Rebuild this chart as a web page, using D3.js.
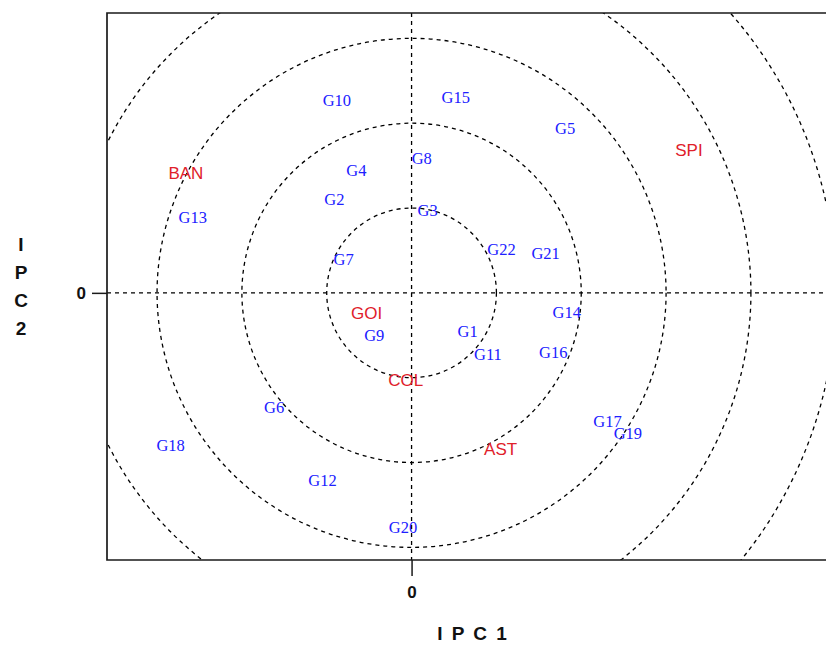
<!DOCTYPE html>
<html>
<head>
<meta charset="utf-8">
<script src="https://cdn.jsdelivr.net/npm/d3@7"></script>
<style>
  html, body { margin: 0; padding: 0; background: #fff; }
  svg { display: block; }
</style>
</head>
<body>
<svg id="chart" width="826" height="645"></svg>
<script>
// Genotype scores on the first two interaction principal components
const genotypes = ["G1","G2","G3","G4","G5","G6","G7","G8","G9","G10","G11",
                   "G12","G13","G14","G15","G16","G17","G18","G19","G20","G21","G22"];
const genoPC1 = [0.66,-0.91,0.19,-0.65,1.81,-1.62,-0.80,0.12,-0.44,-0.88,0.90,
                 -1.05,-2.58,1.83,0.52,1.67,2.31,-2.84,2.55,-0.10,1.58,1.06];
const genoPC2 = [-0.46,1.10,0.97,1.44,1.94,-1.35,0.40,1.59,-0.50,2.27,-0.72,
                 -2.21,0.89,-0.23,2.31,-0.70,-1.51,-1.80,-1.66,-2.76,0.47,0.51];

// Environment scores
const environments = ["BAN","SPI","GOI","COL","AST"];
const envPC1 = [-2.66,3.27,-0.53,-0.07,1.05];
const envPC2 = [1.42,1.69,-0.24,-1.03,-1.84];

// Concentric reference circles (radius in score units) and axis ticks
const circleRadii = [1,2,3,4,5,6];
const xTicks = [0];
const yTicks = [0];

const svg = d3.select("#chart");

const frameLeft = 107, frameTop = 13, frameBottom = 560, frameRight = 840;
const x = d3.scaleLinear().domain([-3.59, 5.05]).range([frameLeft, frameRight]);
const y = d3.scaleLinear().domain([-3.15, 3.30]).range([frameBottom, frameTop]);
const unit = x(1) - x(0);

svg.append("defs").append("clipPath").attr("id", "plotClip")
  .append("rect")
  .attr("x", frameLeft).attr("y", frameTop)
  .attr("width", frameRight - frameLeft).attr("height", frameBottom - frameTop);

const plot = svg.append("g").attr("clip-path", "url(#plotClip)");

// dashed reference circles
plot.selectAll("circle.ring")
  .data(circleRadii)
  .join("circle")
  .attr("class", "ring")
  .attr("cx", x(0)).attr("cy", y(0))
  .attr("r", d => d * unit)
  .attr("fill", "none")
  .attr("stroke", "#000")
  .attr("stroke-width", 1.3)
  .attr("stroke-dasharray", "4,4");

// dashed axes through the origin
plot.append("line")
  .attr("x1", frameLeft).attr("x2", frameRight)
  .attr("y1", y(0)).attr("y2", y(0))
  .attr("stroke", "#000").attr("stroke-width", 1.3)
  .attr("stroke-dasharray", "4,4");
plot.append("line")
  .attr("x1", x(0)).attr("x2", x(0))
  .attr("y1", frameTop).attr("y2", frameBottom)
  .attr("stroke", "#000").attr("stroke-width", 1.3)
  .attr("stroke-dasharray", "4,4");

// frame
svg.append("path")
  .attr("d", `M${frameRight},${frameTop}H${frameLeft}V${frameBottom}H${frameRight}`)
  .attr("fill", "none")
  .attr("stroke", "#1a1a1a")
  .attr("stroke-width", 1.7);

// axes with outward ticks
const xAxis = d3.axisBottom(x).tickValues(xTicks).tickSize(16).tickFormat(d3.format("d"));
const yAxis = d3.axisLeft(y).tickValues(yTicks).tickSize(15).tickFormat(d3.format("d"));

const gx = svg.append("g").attr("transform", `translate(0,${frameBottom})`).call(xAxis);
const gy = svg.append("g").attr("transform", `translate(${frameLeft},0)`).call(yAxis);
[gx, gy].forEach(g => {
  g.select(".domain").remove();
  g.selectAll(".tick line").attr("stroke", "#1a1a1a").attr("stroke-width", 1.5);
  g.selectAll(".tick text")
    .attr("font-family", "'Liberation Sans', Arial, sans-serif")
    .attr("font-weight", "bold")
    .attr("font-size", 17)
    .attr("fill", "#111");
});
gx.selectAll(".tick text").attr("y", 26);
gy.selectAll(".tick text").attr("x", -21);

// axis titles
svg.append("text")
  .attr("x", 473).attr("y", 640)
  .attr("text-anchor", "middle")
  .attr("font-family", "'Liberation Sans', Arial, sans-serif")
  .attr("font-weight", "bold")
  .attr("font-size", 19)
  .attr("letter-spacing", 2)
  .attr("fill", "#111")
  .text("I P C 1");

const yTitle = ["I","P","C","2"];
svg.append("g").selectAll("text")
  .data(yTitle)
  .join("text")
  .attr("x", 21)
  .attr("y", (d, i) => 251 + i * 28)
  .attr("text-anchor", "middle")
  .attr("font-family", "'Liberation Sans', Arial, sans-serif")
  .attr("font-weight", "bold")
  .attr("font-size", 19)
  .attr("fill", "#111")
  .text(d => d);

// genotype labels
svg.append("g").selectAll("text")
  .data(genotypes.map((g, i) => ({name: g, pc1: genoPC1[i], pc2: genoPC2[i]})))
  .join("text")
  .attr("x", d => x(d.pc1))
  .attr("y", d => y(d.pc2))
  .attr("dy", "0.34em")
  .attr("text-anchor", "middle")
  .attr("font-family", "'Liberation Serif', 'Times New Roman', serif")
  .attr("font-size", 16.5)
  .attr("fill", "#2020ff")
  .text(d => d.name);

// environment labels
svg.append("g").selectAll("text")
  .data(environments.map((e, i) => ({name: e, pc1: envPC1[i], pc2: envPC2[i]})))
  .join("text")
  .attr("x", d => x(d.pc1))
  .attr("y", d => y(d.pc2))
  .attr("dy", "0.36em")
  .attr("text-anchor", "middle")
  .attr("font-family", "'Liberation Sans', Arial, sans-serif")
  .attr("font-size", 17)
  .attr("fill", "#e0202a")
  .text(d => d.name);
</script>
</body>
</html>
